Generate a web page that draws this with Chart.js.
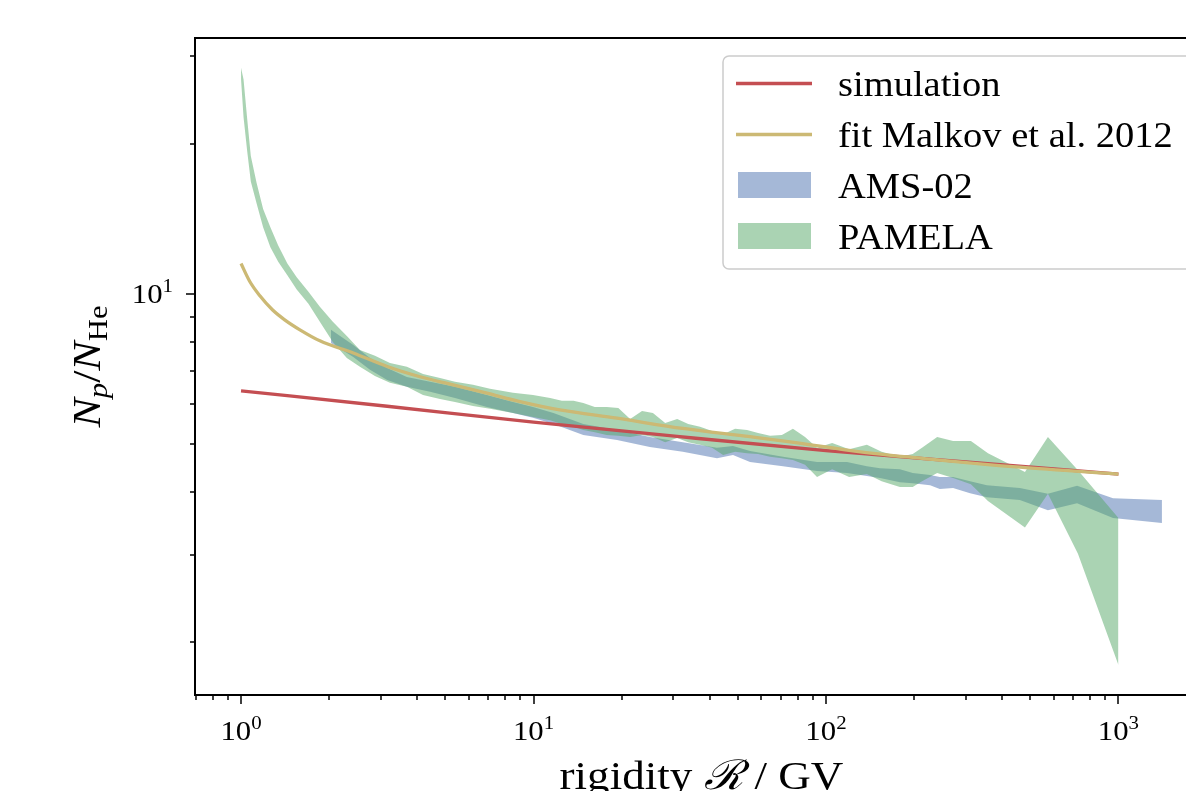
<!DOCTYPE html>
<html>
<head>
<meta charset="utf-8">
<title>p/He ratio</title>
<script src="https://cdn.jsdelivr.net/npm/chart.js@4.4.1/dist/chart.umd.min.js"></script>
<style>
  html, body { margin: 0; padding: 0; overflow: hidden; background: #fff; }
  #wrap { width: 1216px; height: 791px; }
</style>
</head>
<body>
<div id="wrap"><canvas id="ratioChart" width="1216" height="791"></canvas></div>
<script>
// simulation (red line)
const simX = [1, 3.16, 10, 31.6, 100, 316, 1000];
const simY = [6.39, 5.95, 5.53, 5.17, 4.85, 4.59, 4.35];

// fit Malkov et al. 2012 (yellow line)
const fitX = [1.00, 1.07, 1.16, 1.28, 1.41, 1.59, 1.86, 2.42, 3.16, 4.09, 5.31, 6.93, 8.99, 12.3, 19.3, 32.4, 55.0, 75.3, 131, 245, 460, 1000];
const fitY = [11.5, 10.6, 9.91, 9.29, 8.87, 8.47, 8.05, 7.61, 7.15, 6.82, 6.57, 6.32, 6.08, 5.85, 5.63, 5.37, 5.17, 5.05, 4.82, 4.64, 4.49, 4.35];

// AMS-02 band
const amsX = [2.03, 2.42, 2.76, 3.16, 3.69, 4.43, 5.39, 6.93, 8.51, 9.96, 11.7, 14.8, 19.3, 25.0, 32.4, 42.4, 48.1, 55.0, 71.3, 93.2, 118, 138, 153, 179, 198, 227, 245, 272, 311, 355, 460, 574, 722, 958, 1408];
const amsHi = [8.47, 7.90, 7.44, 7.10, 6.81, 6.66, 6.51, 6.27, 6.07, 5.93, 5.77, 5.48, 5.33, 5.16, 5.04, 4.91, 4.95, 4.84, 4.71, 4.60, 4.60, 4.51, 4.47, 4.45, 4.37, 4.33, 4.29, 4.29, 4.21, 4.13, 4.08, 3.97, 4.12, 3.89, 3.86];
const amsLo = [7.97, 7.47, 7.04, 6.72, 6.51, 6.36, 6.18, 5.93, 5.77, 5.64, 5.48, 5.21, 5.09, 4.93, 4.82, 4.68, 4.75, 4.60, 4.51, 4.41, 4.37, 4.31, 4.27, 4.19, 4.17, 4.13, 4.06, 4.08, 3.98, 3.91, 3.86, 3.68, 3.80, 3.55, 3.47];

// PAMELA band
const pamX = [1.00, 1.02, 1.05, 1.08, 1.13, 1.19, 1.26, 1.34, 1.44, 1.55, 1.70, 1.86, 2.06, 2.30, 2.55, 2.87, 3.23, 3.69, 4.19, 4.79, 5.39, 6.21, 7.10, 8.51, 9.96, 11.4, 12.5, 13.7, 14.8, 16.2, 17.8, 19.5, 21.4, 23.5, 25.6, 28.2, 31.0, 33.8, 37.1, 40.8, 44.5, 48.9, 53.7, 58.6, 64.4, 70.7, 77.1, 84.8, 93.2, 105, 120, 138, 155, 179, 198, 213, 240, 272, 313, 358, 479, 574, 727, 1000];
const pamHi = [28.4, 26.9, 22.4, 18.9, 16.7, 14.8, 13.6, 12.5, 11.5, 10.8, 10.1, 9.42, 8.79, 8.23, 7.72, 7.51, 7.27, 7.14, 6.91, 6.78, 6.66, 6.57, 6.45, 6.33, 6.27, 6.18, 6.10, 6.10, 6.04, 5.93, 5.93, 5.90, 5.61, 5.82, 5.77, 5.51, 5.61, 5.48, 5.41, 5.31, 5.23, 5.36, 5.33, 5.26, 5.19, 5.21, 5.36, 5.16, 4.91, 5.02, 4.88, 4.98, 4.82, 4.71, 4.77, 4.91, 5.16, 5.07, 5.07, 4.79, 4.39, 5.16, 4.43, 3.55];
const pamLo = [26.9, 22.6, 19.3, 16.8, 15.2, 13.6, 12.4, 11.6, 10.9, 10.2, 9.55, 8.79, 8.01, 7.44, 7.14, 6.84, 6.63, 6.51, 6.27, 6.15, 6.07, 5.96, 5.88, 5.77, 5.66, 5.58, 5.48, 5.41, 5.33, 5.28, 5.21, 5.19, 5.16, 5.21, 5.16, 5.04, 5.14, 5.04, 4.98, 4.91, 4.75, 4.82, 4.79, 4.77, 4.71, 4.68, 4.64, 4.54, 4.29, 4.45, 4.29, 4.35, 4.21, 4.10, 4.10, 4.21, 4.37, 4.27, 4.15, 3.84, 3.40, 3.97, 3.01, 1.80];

// axis ticks
const xMajor = [1, 10, 100, 1000];
const xMajorExp = ['0', '1', '2', '3'];
const yMajor = [10];
const yMajorExp = ['1'];

const xRange = [0.696, 2024];
const yRange = [1.568, 32.6];

const RED = '#C44E52';
const GOLD = '#CCB974';
const BLUE_FILL = 'rgba(76, 114, 176, 0.5)';
const GREEN_FILL = 'rgba(85, 168, 104, 0.5)';

const SERIF = '"Liberation Serif", "DejaVu Serif", serif';
const SX = 1.1; // a bit wider, closer to the LaTeX font

function toPoints(xs, ys) {
    return xs.map((x, i) => ({ x: x, y: ys[i] }));
}

function setFont(ctx, size, style) {
    ctx.font = (style ? style + ' ' : '') + size + 'px ' + SERIF;
}

function drawRich(ctx, segs, x, y, align) {
    let total = 0;
    segs.forEach(s => {
        setFont(ctx, s.size, s.style);
        s.w = ctx.measureText(s.t).width * SX;
        total += s.w;
    });
    let cx = x;
    if (align === 'center') cx = x - total / 2;
    else if (align === 'right') cx = x - total;
    segs.forEach(s => {
        ctx.save();
        setFont(ctx, s.size, s.style);
        ctx.textAlign = 'left';
        ctx.textBaseline = 'alphabetic';
        ctx.fillStyle = '#000';
        ctx.translate(cx, y + (s.dy || 0));
        ctx.scale(SX, 1);
        ctx.fillText(s.t, 0, 0);
        ctx.restore();
        cx += s.w;
    });
}

function minorValues(min, max) {
    const vals = [];
    for (let d = -1; d <= 4; d++) {
        for (let j = 2; j <= 9; j++) {
            const v = j * Math.pow(10, d);
            if (v > min && v < max) vals.push(v);
        }
    }
    return vals;
}

// frame, ticks, labels and legend drawn on top of the datasets
const decorPlugin = {
    id: 'decor',
    afterDraw(chart) {
        const ctx = chart.ctx;
        const area = chart.chartArea;
        const xs = chart.scales.x;
        const ys = chart.scales.y;

        ctx.save();
        ctx.strokeStyle = '#000';

        // ticks
        ctx.lineWidth = 1.5;
        ctx.beginPath();
        xMajor.forEach(v => {
            const px = Math.round(xs.getPixelForValue(v));
            ctx.moveTo(px, area.bottom);
            ctx.lineTo(px, area.bottom + 9);
        });
        minorValues(xRange[0], xRange[1]).forEach(v => {
            const px = Math.round(xs.getPixelForValue(v));
            ctx.moveTo(px, area.bottom);
            ctx.lineTo(px, area.bottom + 5);
        });
        yMajor.forEach(v => {
            const py = Math.round(ys.getPixelForValue(v));
            ctx.moveTo(area.left, py);
            ctx.lineTo(area.left - 9, py);
        });
        minorValues(yRange[0], yRange[1]).forEach(v => {
            const py = Math.round(ys.getPixelForValue(v));
            ctx.moveTo(area.left, py);
            ctx.lineTo(area.left - 5, py);
        });
        ctx.stroke();

        // spines
        ctx.lineWidth = 2;
        ctx.strokeRect(area.left, area.top, area.right - area.left, area.bottom - area.top);

        // tick labels
        xMajor.forEach((v, i) => {
            const px = xs.getPixelForValue(v);
            drawRich(ctx, [
                { t: '10', size: 28 },
                { t: xMajorExp[i], size: 19, dy: -11 }
            ], px, 740, 'center');
        });
        yMajor.forEach((v, i) => {
            const py = ys.getPixelForValue(v);
            drawRich(ctx, [
                { t: '10', size: 28 },
                { t: yMajorExp[i], size: 19, dy: -11 }
            ], 173, py + 9, 'right');
        });

        // axis titles
        drawRich(ctx, [
            { t: 'rigidity ', size: 41 },
            { t: 'ℛ', size: 41, style: 'italic' },
            { t: ' / GV', size: 41 }
        ], (area.left + area.right) / 2, 789, 'center');

        ctx.save();
        ctx.translate(100, (area.top + area.bottom) / 2);
        ctx.rotate(-Math.PI / 2);
        drawRich(ctx, [
            { t: 'N', size: 40, style: 'italic' },
            { t: 'p', size: 28, style: 'italic', dy: 7 },
            { t: '/', size: 40 },
            { t: 'N', size: 40, style: 'italic' },
            { t: 'He', size: 28, dy: 7 }
        ], 0, 0, 'center');
        ctx.restore();

        // legend
        ctx.beginPath();
        ctx.roundRect(723, 56, 475, 213, 6);
        ctx.fillStyle = 'rgba(255, 255, 255, 0.8)';
        ctx.fill();
        ctx.strokeStyle = '#cccccc';
        ctx.lineWidth = 1.5;
        ctx.stroke();

        ctx.lineWidth = 3.3;
        ctx.strokeStyle = RED;
        ctx.beginPath(); ctx.moveTo(736, 83.5); ctx.lineTo(812, 83.5); ctx.stroke();
        ctx.strokeStyle = GOLD;
        ctx.beginPath(); ctx.moveTo(736, 134.5); ctx.lineTo(812, 134.5); ctx.stroke();
        ctx.fillStyle = BLUE_FILL;
        ctx.fillRect(738, 172, 73, 26);
        ctx.fillStyle = GREEN_FILL;
        ctx.fillRect(738, 223, 73, 26);

        drawRich(ctx, [{ t: 'simulation', size: 35 }], 838, 96, 'left');
        drawRich(ctx, [{ t: 'fit Malkov et al. 2012', size: 35 }], 838, 147, 'left');
        drawRich(ctx, [{ t: 'AMS-02', size: 35 }], 838, 198, 'left');
        drawRich(ctx, [{ t: 'PAMELA', size: 35 }], 838, 249, 'left');

        ctx.restore();
    }
};

document.addEventListener('DOMContentLoaded', () => {
    const ctx = document.getElementById('ratioChart').getContext('2d');
    const ratioChart = new Chart(ctx, {
        type: 'line',
        data: {
            datasets: [
                {
                    label: 'fit Malkov et al. 2012',
                    data: toPoints(fitX, fitY),
                    borderColor: GOLD,
                    borderWidth: 3.3,
                    pointRadius: 0,
                    cubicInterpolationMode: 'monotone',
                    fill: false,
                    order: 0
                },
                {
                    label: 'simulation',
                    data: toPoints(simX, simY),
                    borderColor: RED,
                    borderWidth: 3.3,
                    pointRadius: 0,
                    cubicInterpolationMode: 'monotone',
                    fill: false,
                    order: 1
                },
                {
                    label: 'PAMELA',
                    data: toPoints(pamX, pamHi),
                    borderWidth: 0,
                    pointRadius: 0,
                    backgroundColor: GREEN_FILL,
                    fill: '+1',
                    order: 2
                },
                {
                    label: 'PAMELA low',
                    data: toPoints(pamX, pamLo),
                    borderWidth: 0,
                    pointRadius: 0,
                    fill: false,
                    order: 3
                },
                {
                    label: 'AMS-02',
                    data: toPoints(amsX, amsHi),
                    borderWidth: 0,
                    pointRadius: 0,
                    backgroundColor: BLUE_FILL,
                    fill: '+1',
                    order: 4
                },
                {
                    label: 'AMS-02 low',
                    data: toPoints(amsX, amsLo),
                    borderWidth: 0,
                    pointRadius: 0,
                    fill: false,
                    order: 5
                }
            ]
        },
        options: {
            responsive: false,
            animation: false,
            layout: { padding: { left: 0, right: 8, top: 38, bottom: 0 } },
            plugins: {
                legend: { display: false },
                tooltip: { enabled: false }
            },
            scales: {
                x: {
                    type: 'logarithmic',
                    min: xRange[0],
                    max: xRange[1],
                    ticks: { display: false },
                    grid: { display: false },
                    border: { display: false },
                    afterFit: scale => { scale.height = 96; }
                },
                y: {
                    type: 'logarithmic',
                    min: yRange[0],
                    max: yRange[1],
                    ticks: { display: false },
                    grid: { display: false },
                    border: { display: false },
                    afterFit: scale => { scale.width = 195; }
                }
            }
        },
        plugins: [decorPlugin]
    });
});
</script>
</body>
</html>
